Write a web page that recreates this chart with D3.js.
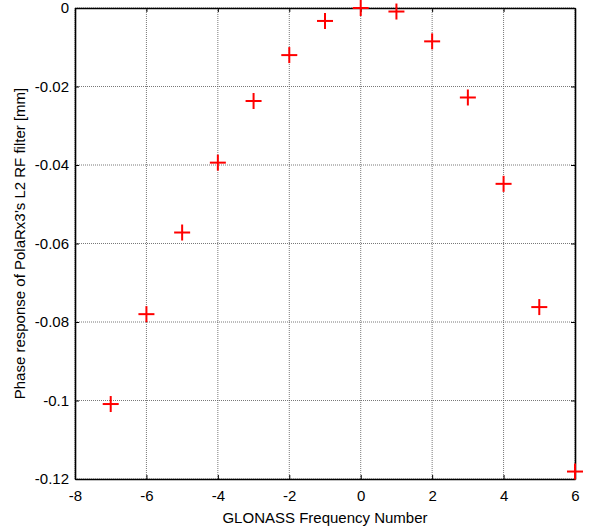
<!DOCTYPE html>
<html><head><meta charset="utf-8">
<script src="https://cdn.jsdelivr.net/npm/d3@7/dist/d3.min.js"></script>
<style>body{margin:0;background:#fff}svg{display:block}text{font-family:"Liberation Sans",Arial,sans-serif;}</style>
</head><body><svg id="c" width="594" height="532"></svg>
<script>
const freqNumbers = [-7,-6,-5,-4,-3,-2,-1,0,1,2,3,4,5,6];
const phaseResponse = [-0.1009,-0.0780,-0.0572,-0.0394,-0.0237,-0.0120,-0.0033,0.0000,-0.0009,-0.0085,-0.0228,-0.0448,-0.0762,-0.1181];
const xTicks = [-8,-6,-4,-2,0,2,4,6];
const yTicks = [0,-0.02,-0.04,-0.06,-0.08,-0.1,-0.12];
const xTitle = "GLONASS Frequency Number";
const yTitle = "Phase response of PolaRx3\u2019s L2 RF filter [mm]";

const L=75,R=575,T=8,B=479;
const FS=15;
const svg=d3.select("#c");
const x=d3.scaleLinear().domain([-8,6]).range([L,R]);
const y=d3.scaleLinear().domain([-0.12,0]).range([B,T]);

// grid
const g=svg.append("g");
g.selectAll(".gx").data(xTicks).enter().append("line")
 .attr("x1",d=>x(d)).attr("x2",d=>x(d)).attr("y1",T).attr("y2",B)
 .attr("stroke","#555").attr("stroke-width",0.8).attr("stroke-dasharray","1,1");
g.selectAll(".gy").data(yTicks).enter().append("line")
 .attr("y1",d=>y(d)).attr("y2",d=>y(d)).attr("x1",L).attr("x2",R)
 .attr("stroke","#555").attr("stroke-width",0.8).attr("stroke-dasharray","1,1");

// axes with inner ticks
const fmt=d=>d===0?"0":String(d);
const ax=svg.append("g").attr("transform",`translate(0,${B})`)
 .call(d3.axisBottom(x).tickValues(xTicks).tickSizeInner(-4).tickSizeOuter(0).tickPadding(11).tickFormat(fmt));
const axT=svg.append("g").attr("transform",`translate(0,${T})`)
 .call(d3.axisTop(x).tickValues(xTicks).tickSizeInner(-4).tickSizeOuter(0).tickFormat(""));
const ay=svg.append("g").attr("transform",`translate(${L},0)`)
 .call(d3.axisLeft(y).tickValues(yTicks).tickSizeInner(-4).tickSizeOuter(0).tickPadding(6).tickFormat(fmt));
const ayR=svg.append("g").attr("transform",`translate(${R},0)`)
 .call(d3.axisRight(y).tickValues(yTicks).tickSizeInner(-4).tickSizeOuter(0).tickFormat(""));
[ax,axT,ay,ayR].forEach(a=>{
 a.select(".domain").attr("stroke","#000").attr("stroke-width",1.6);
 a.selectAll(".tick line").attr("stroke","#000");
 a.selectAll("text").attr("font-size",FS).attr("fill","#000").attr("font-family","Liberation Sans, Arial, sans-serif");
});

// markers
const m=svg.append("g").attr("stroke","#f00").attr("stroke-width",2);
const pts=freqNumbers.map((f,i)=>[f,phaseResponse[i]]);
m.selectAll(".h").data(pts).enter().append("line")
 .attr("x1",d=>x(d[0])-8).attr("x2",d=>x(d[0])+8).attr("y1",d=>y(d[1])).attr("y2",d=>y(d[1]));
m.selectAll(".v").data(pts).enter().append("line")
 .attr("x1",d=>x(d[0])).attr("x2",d=>x(d[0])).attr("y1",d=>y(d[1])-8).attr("y2",d=>y(d[1])+8);

// titles
svg.append("text").attr("x",(L+R)/2).attr("y",523).attr("text-anchor","middle").attr("font-size",FS).text(xTitle);
svg.append("text").attr("transform",`translate(25,${(T+B)/2}) rotate(-90)`).attr("text-anchor","middle").attr("font-size",FS).text(yTitle);
</script></body></html>
